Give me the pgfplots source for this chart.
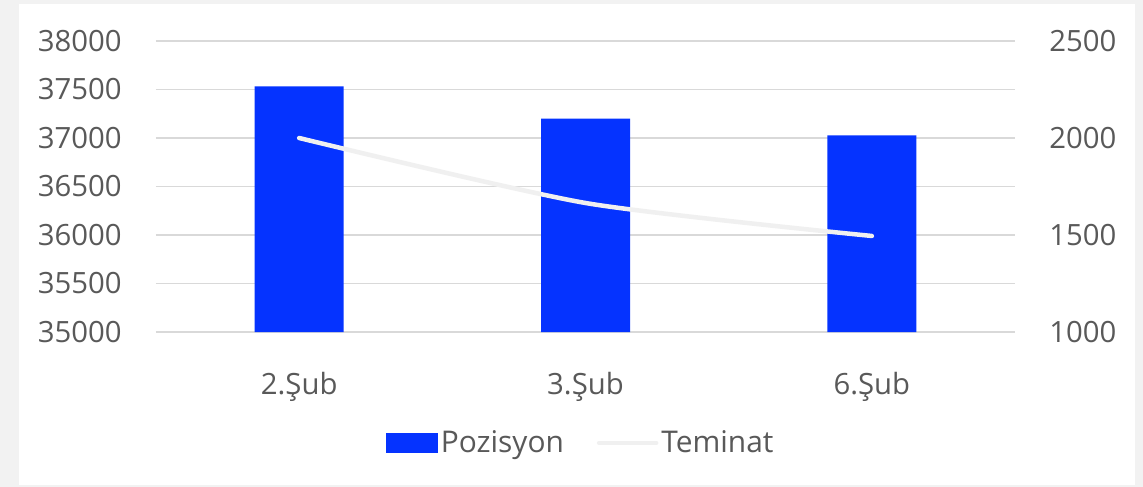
\documentclass[border=0pt]{standalone}
\usepackage{fontspec}
\setmainfont{Open Sans}
\usepackage{pgfplots}
\pgfplotsset{compat=1.18}
\definecolor{barc}{HTML}{0533FF}
\definecolor{linec}{HTML}{F0F0F0}
\definecolor{gridc}{HTML}{D9D9D9}
\definecolor{labc}{HTML}{595959}
\definecolor{bgc}{HTML}{F2F2F2}
\pgfplotsset{
  barlegend/.style={legend image code/.code={\fill[barc] (0bp,-5bp) rectangle (26bp,5bp);}},
  linelegend/.style={legend image code/.code={\draw[linec, line width=2.25bp, line cap=round] (0bp,0bp) -- (28.5bp,0bp);}},
}
\begin{document}
\begin{tikzpicture}
\fill[bgc] (-78bp,-77.5bp) rectangle (493.5bp,166bp);
\fill[white] (-68.5bp,-76.5bp) rectangle (489.5bp,164bp);
\begin{axis}[
  at={(0,0)}, anchor=south west, scale only axis,
  width=429.5bp, height=145.5bp,
  xmin=-0.5, xmax=2.5, ymin=35000, ymax=38000,
  xtick={0,1,2}, xticklabels={2.Şub,3.Şub,6.Şub},
  ytick={35000,35500,36000,36500,37000,37500,38000},
  scaled y ticks=false,
  ymajorgrids, grid style={color=gridc, line width=0.75bp},
  axis line style={draw=none}, major tick length=0pt,
  tick label style={font=\fontsize{14.7}{17}\selectfont, text=labc},
  /pgf/number format/assume math mode=true,
  /pgf/number format/fixed,
  /pgf/number format/1000 sep={},
  yticklabel style={anchor=east, inner sep=0pt, xshift=-17bp},
  xticklabel style={anchor=base, inner sep=0pt, yshift=-31bp},
  legend columns=2,
  legend style={draw=none, fill=none, at={(0.495,-0.381)}, anchor=center,
    font=\fontsize{15}{17}\selectfont, text=labc,
    /tikz/every even column/.append style={column sep=15bp},
    nodes={inner xsep=1.5bp, inner ysep=0pt}},
]
\addplot[ybar, bar width=44.5bp, bar shift=0pt, fill=barc, draw=none, barlegend]
  coordinates {(0,37531) (1,37200) (2,37028)};
\addlegendentry{Pozisyon}
\addlegendimage{linelegend}
\addlegendentry{Teminat}
\end{axis}
\begin{axis}[
  at={(0,0)}, anchor=south west, scale only axis,
  width=429.5bp, height=145.5bp,
  xmin=-0.5, xmax=2.5, ymin=1000, ymax=2500,
  xtick=\empty, ytick={1000,1500,2000,2500},
  scaled y ticks=false,
  axis y line*=right, axis x line=none,
  axis line style={draw=none}, major tick length=0pt,
  tick label style={font=\fontsize{14.7}{17}\selectfont, text=labc},
  /pgf/number format/assume math mode=true,
  /pgf/number format/fixed,
  /pgf/number format/1000 sep={},
  yticklabel style={anchor=west, inner sep=0pt, xshift=17bp},
]
\addplot[linec, line width=2.25bp, line cap=round, smooth, tension=0.4]
  coordinates {(0,2000) (1,1665) (2,1495)};
\end{axis}
\end{tikzpicture}
\end{document}
